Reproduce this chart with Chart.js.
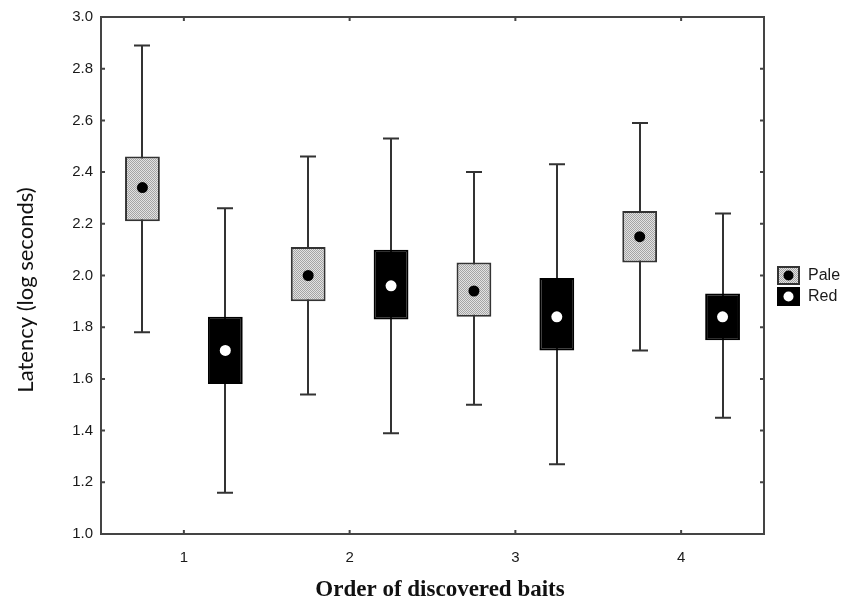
<!DOCTYPE html>
<html>
<head>
<meta charset="utf-8">
<script src="https://cdn.jsdelivr.net/npm/chart.js@4/dist/chart.umd.min.js"></script>
<style>
  body { margin: 0; background: #fff; }
  canvas { display: block; }
</style>
</head>
<body>
<canvas id="chart" width="841" height="604"></canvas>
<script>
// ========== Data ==========
const categories = ["1", "2", "3", "4"];

const paleMin  = [1.78, 1.54, 1.50, 1.71];
const paleQ1   = [2.21, 1.90, 1.84, 2.05];
const paleQ3   = [2.46, 2.11, 2.05, 2.25];
const paleMax  = [2.89, 2.46, 2.40, 2.59];
const paleMean = [2.34, 2.00, 1.94, 2.15];

const redMin  = [1.16, 1.39, 1.27, 1.45];
const redQ1   = [1.58, 1.83, 1.71, 1.75];
const redQ3   = [1.84, 2.10, 1.99, 1.93];
const redMax  = [2.26, 2.53, 2.43, 2.24];
const redMean = [1.71, 1.96, 1.84, 1.84];

const yMin = 1.0, yMax = 3.0, yStep = 0.2;

const xTitle = "Order of discovered baits";
const yTitle = "Latency (log seconds)";

const INK = "#333";
const SANS = "'Liberation Sans', Arial, sans-serif";

// ========== Stipple fill for the pale boxes ==========
function makeStipple() {
  const c = document.createElement("canvas");
  c.width = 2; c.height = 2;
  const g = c.getContext("2d");
  g.fillStyle = "#e2e2e2"; g.fillRect(0, 0, 2, 2);
  g.fillStyle = "#a4a4a4";
  g.fillRect(0, 0, 1, 1);
  g.fillRect(1, 1, 1, 1);
  return g.createPattern(c, "repeat");
}
const stipple = makeStipple();

const series = [
  { label: "Pale", min: paleMin, q1: paleQ1, q3: paleQ3, max: paleMax, mean: paleMean, dot: "#000" },
  { label: "Red",  min: redMin,  q1: redQ1,  q3: redQ3,  max: redMax,  mean: redMean,  dot: "#fff" },
];

// ========== Whiskers, means, frame, ticks, legend, titles ==========
const boxExtras = {
  id: "boxExtras",
  beforeDatasetsDraw(chart) {
    const ctx = chart.ctx, y = chart.scales.y;
    ctx.save();
    ctx.strokeStyle = INK;
    ctx.lineWidth = 2;
    series.forEach((s, d) => {
      chart.getDatasetMeta(d).data.forEach((bar, i) => {
        const x = Math.round(bar.x);
        const top = y.getPixelForValue(s.max[i]);
        const bot = y.getPixelForValue(s.min[i]);
        ctx.beginPath();
        ctx.moveTo(x, top); ctx.lineTo(x, bot);
        ctx.moveTo(x - 8, top); ctx.lineTo(x + 8, top);
        ctx.moveTo(x - 8, bot); ctx.lineTo(x + 8, bot);
        ctx.stroke();
      });
    });
    ctx.restore();
  },
  afterDatasetsDraw(chart) {
    const ctx = chart.ctx, y = chart.scales.y, x = chart.scales.x;
    const a = chart.chartArea;
    ctx.save();

    // mean dots
    series.forEach((s, d) => {
      chart.getDatasetMeta(d).data.forEach((bar, i) => {
        ctx.beginPath();
        ctx.arc(bar.x, y.getPixelForValue(s.mean[i]), 5.5, 0, Math.PI * 2);
        ctx.fillStyle = s.dot;
        ctx.fill();
      });
    });

    // frame
    ctx.strokeStyle = "#444";
    ctx.lineWidth = 2;
    ctx.strokeRect(a.left, a.top, a.right - a.left, a.bottom - a.top);

    // inward ticks on all four sides
    ctx.beginPath();
    y.ticks.forEach((t, i) => {
      const py = y.getPixelForTick(i);
      ctx.moveTo(a.left, py); ctx.lineTo(a.left + 4, py);
      ctx.moveTo(a.right, py); ctx.lineTo(a.right - 4, py);
    });
    x.ticks.forEach((t, i) => {
      const px = x.getPixelForTick(i);
      ctx.moveTo(px, a.bottom); ctx.lineTo(px, a.bottom - 4);
      ctx.moveTo(px, a.top); ctx.lineTo(px, a.top + 4);
    });
    ctx.stroke();

    // legend
    const lx = a.right + 14;
    let ly = 267;
    ctx.font = "16px " + SANS;
    ctx.textBaseline = "middle";
    chart.data.datasets.forEach((ds, d) => {
      ctx.fillStyle = ds.backgroundColor;
      ctx.fillRect(lx, ly, 21, 17);
      ctx.strokeStyle = d === 0 ? INK : "#000";
      ctx.lineWidth = 2;
      ctx.strokeRect(lx, ly, 21, 17);
      ctx.beginPath();
      ctx.arc(lx + 10.5, ly + 8.5, 5, 0, Math.PI * 2);
      ctx.fillStyle = series[d].dot;
      ctx.fill();
      ctx.fillStyle = "#1a1a1a";
      ctx.fillText(ds.label, lx + 30, ly + 9);
      ly += 21;
    });

    // axis titles
    ctx.fillStyle = "#111";
    ctx.textAlign = "center";
    ctx.font = "bold 23px 'Liberation Serif', 'Times New Roman', serif";
    ctx.fillText(xTitle, 440, 590);

    ctx.translate(26, 290);
    ctx.rotate(-Math.PI / 2);
    ctx.font = "22px Lato, 'Open Sans', sans-serif";
    ctx.fillText(yTitle, 0, 0);

    ctx.restore();
  },
};

// ========== Chart ==========
const ctx = document.getElementById("chart").getContext("2d");

new Chart(ctx, {
  type: "bar",
  data: {
    labels: categories,
    datasets: [
      {
        label: "Pale",
        data: paleQ1.map((v, i) => [v, paleQ3[i]]),
        backgroundColor: stipple,
        borderColor: INK,
        borderWidth: 2,
        borderSkipped: false,
      },
      {
        label: "Red",
        data: redQ1.map((v, i) => [v, redQ3[i]]),
        backgroundColor: "#000",
        borderColor: "#000",
        borderWidth: 2,
        borderSkipped: false,
      },
    ],
  },
  options: {
    responsive: false,
    animation: false,
    events: [],
    categoryPercentage: 1.0,
    barPercentage: 0.42,
    layout: { padding: { top: 15, right: 77, bottom: 0, left: 0 } },
    plugins: {
      legend: { display: false },
      tooltip: { enabled: false },
    },
    scales: {
      x: {
        grid: { display: false, drawTicks: false },
        border: { display: false },
        ticks: {
          color: "#1a1a1a",
          padding: 15,
          font: { family: SANS, size: 15 },
        },
        afterFit(scale) { scale.height = 70; },
      },
      y: {
        min: yMin,
        max: yMax,
        grid: { display: false, drawTicks: false },
        border: { display: false },
        ticks: {
          stepSize: yStep,
          color: "#1a1a1a",
          padding: 8,
          font: { family: SANS, size: 15 },
          callback: (v) => Number(v).toFixed(1),
        },
        afterFit(scale) { scale.width = 101; },
      },
    },
  },
  plugins: [boxExtras],
});
</script>
</body>
</html>
